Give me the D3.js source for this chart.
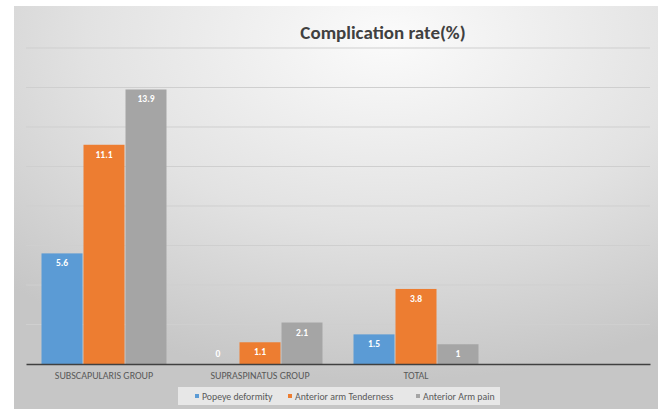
<!DOCTYPE html>
<html>
<head>
<meta charset="utf-8">
<script src="https://cdn.jsdelivr.net/npm/d3@7"></script>
<style>
  body { margin: 0; background: #fff; }
  svg { display: block; font-family: Calibri, Carlito, "Liberation Sans", Arial, sans-serif; }
</style>
</head>
<body>
<svg id="chart" width="664" height="409"></svg>
<script>
// chart data
const categories = ["SUBSCAPULARIS GROUP", "SUPRASPINATUS GROUP", "TOTAL", ""];
const seriesNames = ["Popeye deformity", "Anterior arm Tenderness", "Anterior Arm pain"];
const popeye = [5.6, 0, 1.5, null];
const tenderness = [11.1, 1.1, 3.8, null];
const armPain = [13.9, 2.1, 1, null];
const yTicks = [0, 2, 4, 6, 8, 10, 12, 14, 16];

const seriesValues = [popeye, tenderness, armPain];
const colors = ["#5b9bd5", "#ed7d31", "#a5a5a5"];

const svg = d3.select("#chart");
const margin = { top: 48, right: 14, bottom: 45, left: 26 };
const width = +svg.attr("width") - margin.left - margin.right;
const height = +svg.attr("height") - margin.top - margin.bottom;

// background gradient like the office chart
const defs = svg.append("defs");
const grad = defs.append("radialGradient")
    .attr("id", "bg")
    .attr("cx", "58%").attr("cy", "8%").attr("r", "85%")
    .attr("gradientUnits", "objectBoundingBox");
grad.append("stop").attr("offset", "0%").attr("stop-color", "#fbfbfb");
grad.append("stop").attr("offset", "55%").attr("stop-color", "#e2e2e2");
grad.append("stop").attr("offset", "100%").attr("stop-color", "#c6c6c6");

svg.append("rect")
    .attr("x", 14).attr("y", 6)
    .attr("width", 644).attr("height", 403)
    .attr("fill", "url(#bg)");

svg.append("text")
    .attr("x", 383).attr("y", 39)
    .attr("text-anchor", "middle")
    .attr("font-size", 19)
    .attr("font-weight", "bold")
    .attr("fill", "#404040")
    .text("Complication rate(%)");

const g = svg.append("g")
    .attr("transform", `translate(${margin.left},${margin.top})`);

const x = d3.scaleBand()
    .domain(categories.map((c, i) => i))
    .range([0, width]);

const x1 = d3.scaleBand()
    .domain(seriesNames)
    .range([15, x.bandwidth() - 15]);

const y = d3.scaleLinear()
    .domain([0, 16])
    .range([height, 0]);

// gridlines
g.append("g")
    .selectAll("line")
    .data(yTicks.slice(1))
    .enter().append("line")
    .attr("x1", 0).attr("x2", width)
    .attr("y1", d => y(d)).attr("y2", d => y(d))
    .attr("stroke", "#cfcfcf")
    .attr("stroke-width", 1);

const rows = [];
categories.forEach((c, i) => {
    seriesNames.forEach((s, j) => {
        const v = seriesValues[j][i];
        if (v !== null) rows.push({ cat: i, series: s, value: v, color: colors[j] });
    });
});

g.selectAll("rect.bar")
    .data(rows)
    .enter().append("rect")
    .attr("class", "bar")
    .attr("x", d => x(d.cat) + x1(d.series) + 0.5)
    .attr("width", x1.bandwidth() - 1)
    .attr("y", d => y(d.value))
    .attr("height", d => y(0) - y(d.value))
    .attr("fill", d => d.color);

g.selectAll("text.val")
    .data(rows)
    .enter().append("text")
    .attr("class", "val")
    .attr("x", d => x(d.cat) + x1(d.series) + x1.bandwidth() / 2)
    .attr("y", d => d.value === 0 ? y(0) - 7 : y(d.value) + 13)
    .attr("text-anchor", "middle")
    .attr("font-size", 9.5)
    .attr("font-weight", "bold")
    .attr("fill", "#ffffff")
    .text(d => d.value);

// x axis
const xAxis = g.append("g")
    .attr("transform", `translate(0,${height})`)
    .call(d3.axisBottom(x).tickSize(0).tickFormat(i => categories[i]));
xAxis.select(".domain").attr("stroke", "#404040").attr("stroke-width", 1.6);
xAxis.selectAll("text")
    .attr("dy", "1.2em")
    .attr("font-size", 10)
    .attr("font-family", "Calibri, Carlito, 'Liberation Sans', Arial, sans-serif")
    .attr("fill", "#595959");

// legend
const legend = svg.append("g");
legend.append("rect")
    .attr("x", 178).attr("y", 387)
    .attr("width", 322).attr("height", 18)
    .attr("fill", "#ececec")
    .attr("opacity", 0.85);

const legendX = [195, 288, 416];
const items = legend.selectAll("g.item")
    .data(seriesNames)
    .enter().append("g")
    .attr("transform", (d, i) => `translate(${legendX[i]},396)`);
items.append("rect")
    .attr("x", 0).attr("y", -2)
    .attr("width", 4).attr("height", 4)
    .attr("fill", (d, i) => colors[i]);
items.append("text")
    .attr("x", 7).attr("y", 3.5)
    .attr("font-size", 9.8)
    .attr("fill", "#595959")
    .text(d => d);
</script>
</body>
</html>
